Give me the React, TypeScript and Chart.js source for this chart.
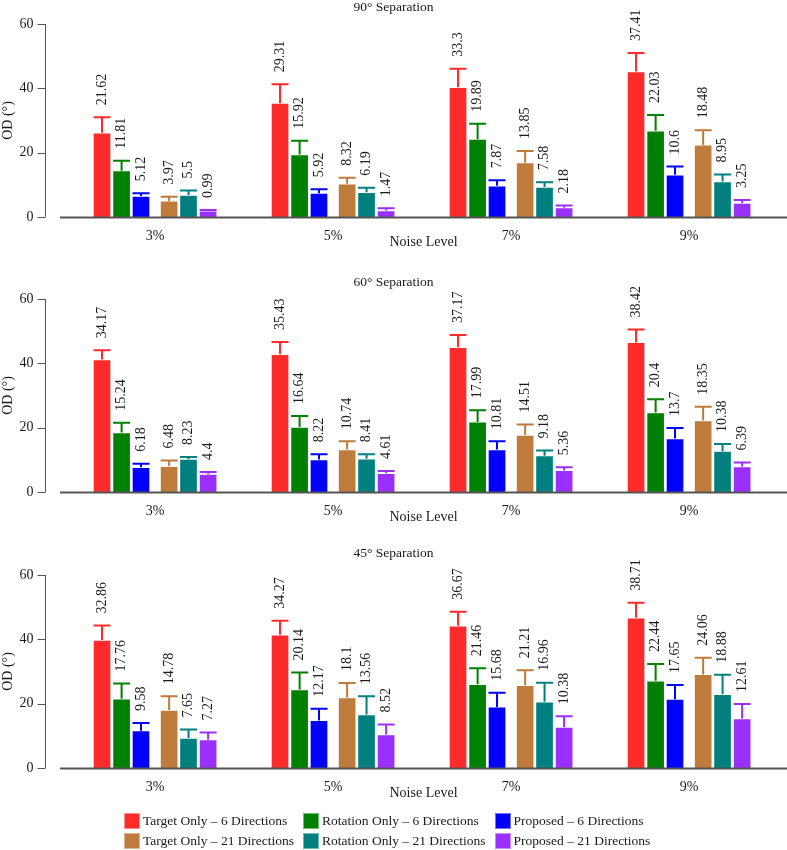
import React, { useEffect, useRef } from "react";
import { Chart, registerables } from "chart.js";

Chart.register(...registerables);

const categories = ["3%", "5%", "7%", "9%"];
const seriesNames = [
  "Target Only – 6 Directions",
  "Rotation Only – 6 Directions",
  "Proposed – 6 Directions",
  "Target Only – 21 Directions",
  "Rotation Only – 21 Directions",
  "Proposed – 21 Directions",
];
const seriesColors = ["#ff2b2b", "#008000", "#0000ff", "#bf7b3b", "#007f7f", "#9a30ff"];
const yTicks = [0, 20, 40, 60];
const xTitle = "Noise Level";
const yTitle = "OD (°)";

// 90° separation
const sep90Mean = [
  [26.2, 35.4, 40.3, 45.2],
  [14.4, 19.4, 24.2, 26.8],
  [6.5, 7.4, 9.7, 13.1],
  [5.0, 10.3, 16.9, 22.4],
  [6.85, 7.7, 9.3, 11.0],
  [1.9, 2.0, 2.9, 4.3],
];
const sep90Err = [
  [4.8, 5.9, 5.8, 5.8],
  [3.1, 4.3, 4.8, 4.9],
  [0.9, 1.2, 1.7, 2.6],
  [1.3, 1.9, 3.6, 4.6],
  [1.35, 1.4, 1.5, 2.2],
  [0.25, 0.7, 0.7, 1.0],
];
const sep90Labels = [
  [21.62, 29.31, 33.3, 37.41],
  [11.81, 15.92, 19.89, 22.03],
  [5.12, 5.92, 7.87, 10.6],
  [3.97, 8.32, 13.85, 18.48],
  [5.5, 6.19, 7.58, 8.95],
  [0.99, 1.47, 2.18, 3.25],
];

// 60° separation
const sep60Mean = [
  [41.2, 42.8, 45.0, 46.5],
  [18.5, 20.2, 21.8, 24.7],
  [7.7, 10.1, 13.2, 16.6],
  [8.0, 13.2, 17.7, 22.2],
  [10.2, 10.3, 11.3, 12.7],
  [5.6, 5.8, 6.7, 7.9],
];
const sep60Err = [
  [2.9, 3.8, 3.8, 4.0],
  [3.0, 3.4, 3.6, 4.1],
  [1.1, 1.6, 2.6, 3.3],
  [1.8, 2.6, 3.3, 4.3],
  [0.7, 1.4, 1.6, 2.2],
  [0.6, 0.7, 1.0, 1.3],
];
const sep60Labels = [
  [34.17, 35.43, 37.17, 38.42],
  [15.24, 16.64, 17.99, 20.4],
  [6.18, 8.22, 10.81, 13.7],
  [6.48, 10.74, 14.51, 18.35],
  [8.23, 8.41, 9.18, 10.38],
  [4.4, 4.61, 5.36, 6.39],
];

// 45° separation
const sep45Mean = [
  [39.8, 41.4, 44.2, 46.7],
  [21.5, 24.4, 26.0, 27.1],
  [11.6, 14.8, 19.0, 21.4],
  [18.0, 21.9, 25.7, 29.1],
  [9.3, 16.6, 20.6, 22.9],
  [8.8, 10.4, 12.7, 15.4],
];
const sep45Err = [
  [4.5, 4.4, 4.4, 4.7],
  [4.8, 5.3, 5.0, 5.2],
  [2.4, 3.6, 4.4, 4.4],
  [4.3, 4.5, 4.7, 5.2],
  [2.7, 5.7, 5.9, 6.1],
  [2.2, 3.1, 3.4, 4.5],
];
const sep45Labels = [
  [32.86, 34.27, 36.67, 38.71],
  [17.76, 20.14, 21.46, 22.44],
  [9.58, 12.17, 15.68, 17.65],
  [14.78, 18.1, 21.21, 24.06],
  [7.65, 13.56, 16.96, 18.88],
  [7.27, 8.52, 10.38, 12.61],
];

const panels = [
  { title: "90° Separation", mean: sep90Mean, err: sep90Err, labels: sep90Labels, top: 0, areaTop: 24, padBottom: 24 },
  { title: "60° Separation", mean: sep60Mean, err: sep60Err, labels: sep60Labels, top: 275, areaTop: 24, padBottom: 24 },
  { title: "45° Separation", mean: sep45Mean, err: sep45Err, labels: sep45Labels, top: 546, areaTop: 29, padBottom: 19 },
];

const FONT = "'Liberation Serif', 'Times New Roman', Times, serif";
const TEXT = "#1a1a1a";
const AXIS = "#555555";
const BAR_OFFSETS = [-0.298, -0.188, -0.079, 0.079, 0.188, 0.298];
const CANVAS_W = 787;
const CANVAS_H = 275;

const errorBarPlugin = {
  id: "errorBarsAndLabels",
  afterDatasetsDraw(chart: any) {
    const { ctx } = chart;
    const yScale = chart.scales.y;
    chart.data.datasets.forEach((ds: any, di: number) => {
      const meta = chart.getDatasetMeta(di);
      meta.data.forEach((bar: any, i: number) => {
        const { x, y, width } = bar.getProps(["x", "y", "width"], true);
        const v = ds.data[i].y;
        const e = ds.errors[i];
        const yTop = yScale.getPixelForValue(v + e);
        ctx.save();
        ctx.strokeStyle = ds.errColor;
        ctx.lineWidth = 2;
        ctx.beginPath();
        ctx.moveTo(x, y);
        ctx.lineTo(x, yTop);
        ctx.moveTo(x - width / 2 + 0.5, yTop);
        ctx.lineTo(x + width / 2 - 0.5, yTop);
        ctx.stroke();
        ctx.translate(x, yTop - 12);
        ctx.rotate(-Math.PI / 2);
        ctx.fillStyle = TEXT;
        ctx.font = `14px ${FONT}`;
        ctx.textAlign = "left";
        ctx.textBaseline = "middle";
        ctx.fillText(String(ds.valueLabels[i]), 0, 0);
        ctx.restore();
      });
    });
  },
};

const axesPlugin = {
  id: "rStyleAxes",
  afterDraw(chart: any, _args: any, opts: any) {
    const { ctx, chartArea, width } = chart;
    const yScale = chart.scales.y;
    const y0 = Math.round(yScale.getPixelForValue(0));
    const yMax = Math.round(yScale.getPixelForValue(yTicks[yTicks.length - 1]));
    const ax = Math.round(chartArea.left - 15) + 0.5;
    ctx.save();
    ctx.strokeStyle = AXIS;
    ctx.lineWidth = 1;
    ctx.beginPath();
    ctx.moveTo(ax, y0);
    ctx.lineTo(ax, yMax);
    yTicks.forEach((t) => {
      const p = Math.round(yScale.getPixelForValue(t)) + 0.5;
      ctx.moveTo(ax - 8, p);
      ctx.lineTo(ax, p);
    });
    ctx.stroke();
    // y tick labels
    ctx.fillStyle = TEXT;
    ctx.font = `14px ${FONT}`;
    ctx.textAlign = "right";
    ctx.textBaseline = "middle";
    yTicks.forEach((t) => {
      ctx.fillText(String(t), ax - 12, yScale.getPixelForValue(t));
    });
    ctx.lineWidth = 2;
    ctx.beginPath();
    ctx.moveTo(chartArea.left, y0 + 0.5);
    ctx.lineTo(chartArea.right, y0 + 0.5);
    ctx.stroke();
    // panel title
    ctx.font = `13.5px ${FONT}`;
    ctx.textAlign = "center";
    ctx.fillText(opts.text, width / 2, 7);
    ctx.restore();
  },
};

function Panel({ panel }: { panel: any }) {
  const ref = useRef<HTMLCanvasElement | null>(null);
  useEffect(() => {
    if (!ref.current) return;
    const datasets = seriesNames.map((name, s) => ({
      label: name,
      data: categories.map((_, i) => ({ x: i + BAR_OFFSETS[s], y: panel.mean[s][i] })),
      errors: panel.err[s],
      valueLabels: panel.labels[s],
      errColor: seriesColors[s],
      backgroundColor: seriesColors[s],
      borderColor: "rgba(255,255,255,0.45)",
      borderWidth: 1,
      barThickness: 18,
      grouped: false,
    }));
    const chart = new Chart(ref.current, {
      type: "bar",
      data: { datasets } as any,
      options: {
        animation: false,
        responsive: false,
        devicePixelRatio: 1,
        layout: { padding: { left: 0, right: 0, top: panel.areaTop, bottom: panel.padBottom } },
        plugins: {
          legend: { display: false },
          tooltip: { enabled: false },
          title: { display: false },
          rStyleAxes: { text: panel.title },
        },
        scales: {
          x: {
            type: "linear",
            min: -0.534,
            max: 3.55,
            offset: false,
            grid: { display: false, drawTicks: false },
            border: { display: false },
            afterBuildTicks: (s: any) => {
              s.ticks = categories.map((_, i) => ({ value: i }));
            },
            afterFit: (s: any) => {
              s.height = 34;
            },
            ticks: {
              autoSkip: false,
              maxRotation: 0,
              padding: 11,
              color: TEXT,
              font: { family: FONT, size: 14 },
              callback: (v: any) => categories[v] ?? "",
            },
            title: {
              display: true,
              text: xTitle,
              color: TEXT,
              font: { family: FONT, size: 14, lineHeight: 1.2 },
              padding: 0,
            },
          },
          y: {
            min: 0,
            max: 60,
            grid: { display: false, drawTicks: false },
            border: { display: false },
            afterBuildTicks: (s: any) => {
              s.ticks = yTicks.map((v) => ({ value: v }));
            },
            afterFit: (s: any) => {
              s.width = 60;
            },
            ticks: { display: false },
            title: {
              display: true,
              text: yTitle,
              color: TEXT,
              font: { family: FONT, size: 14, lineHeight: 1.2 },
              padding: 0,
            },
          },
        },
      } as any,
      plugins: [errorBarPlugin, axesPlugin],
    });
    return () => chart.destroy();
  }, [panel]);
  return (
    <canvas
      ref={ref}
      width={CANVAS_W}
      height={CANVAS_H}
      style={{ position: "absolute", left: 0, top: panel.top, width: CANVAS_W, height: CANVAS_H }}
    />
  );
}

export default function App() {
  return (
    <div
      style={{
        position: "absolute",
        left: 0,
        top: 0,
        width: 787,
        height: 850,
        background: "#ffffff",
        overflow: "hidden",
      }}
    >
      {panels.map((p) => (
        <Panel key={p.title} panel={p} />
      ))}
      <div
        style={{
          position: "absolute",
          left: 124,
          top: 813,
          display: "grid",
          gridTemplateColumns: "auto auto auto",
          columnGap: 9,
          rowGap: 4,
          fontFamily: FONT,
          fontSize: 13.5,
          color: TEXT,
        }}
      >
        {seriesNames.map((name, s) => (
          <div key={name} style={{ display: "flex", alignItems: "center", height: 16, whiteSpace: "nowrap" }}>
            <span
              style={{
                display: "inline-block",
                width: 16,
                height: 16,
                boxSizing: "border-box",
                background: seriesColors[s],
                border: "1px solid rgba(255,255,255,0.45)",
                marginRight: 3,
              }}
            />
            <span style={{ lineHeight: "16px" }}>{name}</span>
          </div>
        ))}
      </div>
    </div>
  );
}
